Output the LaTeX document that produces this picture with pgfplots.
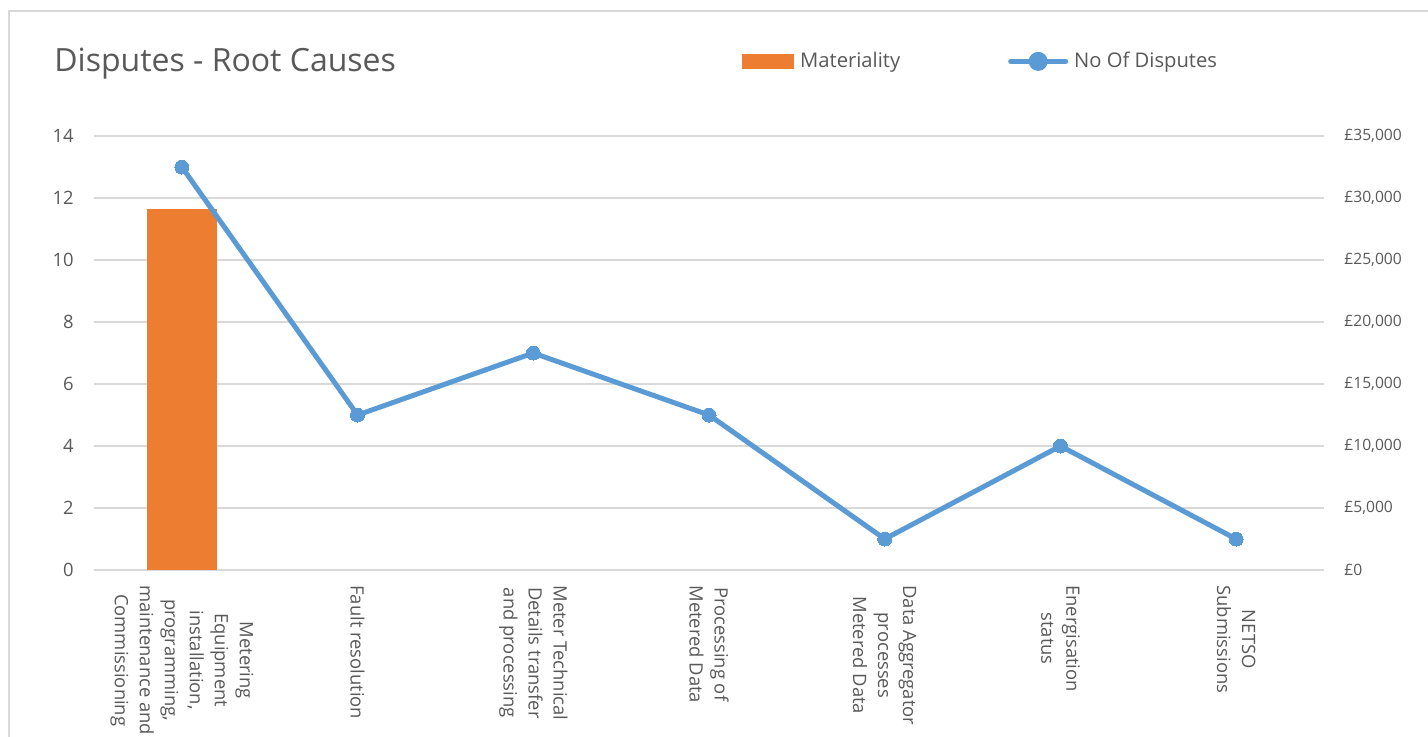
\documentclass[border=0pt]{standalone}
\usepackage{pgfplots}
\pgfplotsset{compat=1.18}
\usepackage{fontspec}
\setmainfont{Open Sans}

\definecolor{barorange}{HTML}{ED7D31}
\definecolor{lineblue}{HTML}{5B9BD5}
\definecolor{txtgray}{HTML}{595959}
\definecolor{gridgray}{HTML}{D9D9D9}

\pgfplotsset{
  rootbase/.style={
    scale only axis,
    width=615pt, height=217pt,
    at={(47pt,-285pt)}, anchor=south west,
    xmin=-0.5, xmax=6.5,
    xtick={0,...,6},
    axis line style={draw=none},
    major tick length=0pt,
    tick label style={text=txtgray},
    /pgf/number format/assume math mode=true,
    clip=false,
  },
}

\begin{document}
\begin{tikzpicture}
\useasboundingbox (0,0) rectangle (714pt,-368pt);
\fill[white] (0,0) rectangle (714pt,-368pt);
% chart frame
\draw[gridgray, line width=0.8pt] (4.5pt,-380pt) -- (4.5pt,-5.5pt) -- (730pt,-5.5pt);
% title
\node[anchor=west, inner sep=0pt, text=txtgray, font=\fontsize{16}{19}\selectfont]
  at (27pt,-32pt) {Disputes - Root Causes};

% materiality in pounds, right-hand axis, carries the grid
% (only the first root cause has a non-zero materiality)
\begin{axis}[rootbase,
  ymin=0, ymax=35000,
  ytick={0,5000,...,35000},
  scaled y ticks=false,
  axis y line*=right,
  ymajorgrids,
  grid style={gridgray, line width=0.8pt},
  xticklabels={},
  yticklabel={£\pgfmathprintnumber[fixed,1000 sep={,}]{\tick}},
  yticklabel style={anchor=west, inner sep=0pt, xshift=10pt,
    font=\fontsize{7.8}{9}\selectfont},
]
\addplot[ybar, bar width=35pt, fill=barorange, draw=none]
  coordinates {(0,29150)};
\end{axis}

% number of disputes, left-hand axis
\begin{axis}[rootbase,
  ymin=0, ymax=14,
  ytick={0,2,...,14},
  axis y line*=left,
  yticklabel style={anchor=east, inner sep=0pt, xshift=-10pt,
    font=\fontsize{9.2}{11}\selectfont},
  xticklabels={
    {Metering\\Equipment\\installation,\\programming,\\maintenance and\\Commissioning},
    {Fault resolution},
    {Meter Technical\\Details transfer\\and processing},
    {Processing of\\Metered Data},
    {Data Aggregator\\processes\\Metered Data},
    {Energisation\\status},
    {NETSO\\Submissions}},
  xticklabel shift=7.5pt,
  xticklabel style={rotate=-90, anchor=west, align=center, inner sep=0pt,
    font=\fontsize{9.2}{12.5}\selectfont},
  legend columns=2,
  legend style={at={(0.5268,1.172)}, anchor=west, draw=none, fill=none,
    inner sep=0pt, text=txtgray, font=\fontsize{10.1}{12}\selectfont,
    nodes={inner xsep=3pt, inner ysep=0pt},
    /tikz/every even column/.append style={column sep=51pt}},
]
\addlegendimage{legend image code/.code={
  \fill[barorange] (0pt,-3.5pt) rectangle (25.5pt,3.5pt);}}
\addlegendentry{Materiality}
\addplot[lineblue, line width=2.5pt, line cap=round, line join=round,
  mark=*, mark size=3.5pt, mark options={fill=lineblue, draw=lineblue, line width=0pt},
  legend image code/.code={
    \draw[lineblue, line width=2.5pt, line cap=round] (0pt,0pt) -- (27.5pt,0pt);
    \fill[lineblue] (13.75pt,0pt) circle (3.5pt);}]
  coordinates {(0,13) (1,5) (2,7) (3,5) (4,1) (5,4) (6,1)};
\addlegendentry{No Of Disputes}
\end{axis}
\end{tikzpicture}
\end{document}
